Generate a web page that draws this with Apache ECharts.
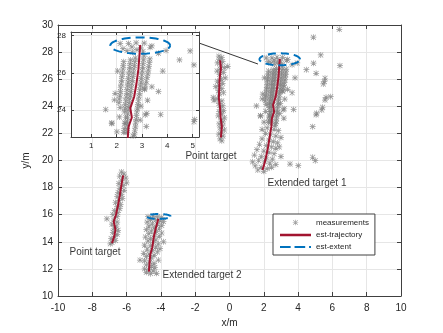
<!DOCTYPE html>
<html>
<head>
<meta charset="utf-8">
<script src="https://cdn.jsdelivr.net/npm/echarts@6/dist/echarts.min.js"></script>
<style>
  html, body { margin: 0; padding: 0; background: #fff; }
  #chart { width: 443px; height: 333px; }
</style>
</head>
<body>
<div id="chart"></div>
<script>
  const pt1Meas = [[-6.3,19.15],[-6.15,19.0],[-6.4,18.85],[-6.05,18.7],[-6.3,18.55],[-6.0,18.35],[-6.45,18.3],[-6.2,18.15],[-6.4,17.95],[-6.15,17.8],[-6.5,17.65],[-6.3,17.5],[-6.55,17.35],[-6.25,17.2],[-6.45,17.05],[-6.65,16.9],[-6.35,16.75],[-6.55,16.6],[-6.4,16.45],[-6.7,16.3],[-6.5,16.15],[-6.8,16.0],[-6.55,15.85],[-7.15,15.7],[-6.75,15.6],[-6.55,15.45],[-6.85,15.3],[-6.6,15.15],[-6.75,15.0],[-6.5,14.85],[-6.8,14.7],[-6.55,14.55],[-6.7,14.4],[-6.9,14.25],[-6.65,14.1],[-6.85,13.95],[-6.95,13.85]];
  const pt2Meas = [[-0.62,27.7],[-0.45,27.6],[-0.6,27.45],[-0.4,27.3],[-0.7,27.2],[-0.5,27.05],[-0.1,26.95],[-0.3,26.85],[-0.55,26.75],[-0.72,26.6],[-0.35,26.5],[-0.58,26.35],[-0.25,26.1],[-0.48,26.0],[-0.7,25.85],[-0.4,25.7],[-0.6,25.55],[-0.8,25.45],[-0.45,25.3],[-0.65,25.15],[-0.35,25.0],[-0.6,24.9],[-0.95,24.65],[-0.9,24.45],[-0.7,24.55],[-0.45,24.4],[-0.62,24.2],[-0.4,24.05],[-0.55,23.9],[-0.35,23.7],[-0.6,23.6],[-0.42,23.45],[-0.65,23.3],[-0.3,23.15],[-0.5,23.0],[-0.38,22.85],[-0.6,22.7],[-0.4,22.55],[-0.55,22.4],[-0.3,22.25],[-0.48,22.1],[-0.62,21.95],[-0.38,21.8],[-0.55,21.6],[-0.45,21.45]];
  const et1Meas = [
    [2.14,27.58],[2.47,27.58],[2.77,27.62],[3.09,27.6],[3.39,27.45],[2.41,27.2],[2.62,27.12],[2.8,27.25],[3.04,27.15],[3.32,27.38],[3.65,27.06],[3.95,27.2],[2.95,27.35],[2.6,27.4],[2.25,27.3],
    [2.28,26.6],[2.26,26.4],[2.25,26.2],[2.23,26.0],[2.21,25.8],[2.2,25.6],[2.18,25.4],[2.16,25.2],[2.15,25.0],[2.13,24.8],[2.11,24.6],[2.09,24.4],
    [2.55,26.7],[2.53,26.5],[2.52,26.3],[2.5,26.1],[2.48,25.9],[2.46,25.7],[2.45,25.5],[2.43,25.3],[2.41,25.1],[2.4,24.9],[2.38,24.7],[2.36,24.5],[2.34,24.3],[2.33,24.1],[2.31,23.9],[2.36,23.6],[2.32,23.3],[2.3,23.0],[2.28,22.8],
    [3.08,26.9],[3.06,26.7],[3.04,26.5],[3.03,26.3],[3.01,26.1],[2.99,25.9],[2.97,25.7],[2.96,25.5],[2.94,25.3],[2.92,25.1],[2.9,24.9],[2.88,24.7],[2.86,24.5],[2.84,24.3],[2.82,24.1],[2.8,23.9],[2.78,23.7],[2.77,23.5],[2.75,23.3],[2.74,23.1],[2.72,22.9],[2.7,22.7],
    [3.31,26.75],[3.29,26.55],[3.27,26.35],[3.25,26.15],[3.23,25.95],[3.2,25.75],[3.17,25.55],[3.14,25.35],[3.11,25.15],
    [2.74,26.8],[2.72,26.6],[2.7,26.4],[2.68,26.2],[2.66,26.0],[2.64,25.8],[2.62,25.6],[2.6,25.4],[2.58,25.2],[2.56,25.0],[2.54,24.8],[2.52,24.6],[2.5,24.4],[2.48,24.2],[2.46,24.0],[2.44,23.8],[2.43,23.6],[2.42,23.4],[2.42,23.2],[2.41,23.0],[2.4,22.8],
    [2.04,26.1],[3.82,26.1],[1.94,24.9],[1.91,24.55],[1.57,24.03],[2.14,24.14],[1.81,23.31],[2.11,23.63],[3.39,25.25],[3.65,25.0],[3.22,24.53],[3.74,23.76],[2.93,23.46],[3.17,23.12],[2.96,24.21],[4.48,26.7],[5.05,26.43],[4.9,27.18],[5.08,23.49],[5.05,23.37],[2.01,22.83],[1.81,23.28],[2.34,23.28],[3.19,23.82],[3.1,25.11],[3.13,23.74],
    [6.4,29.68],[4.89,29.1],[5.32,27.79],[6.44,27.0],[5.57,26.07],[5.53,25.82],[5.47,25.65],[5.63,24.66],[5.9,24.71],[5.57,24.46],[5.43,23.93],[5.38,23.73],[4.85,22.5],[4.85,20.24],[5.0,19.99],[3.53,19.74],[4.01,19.62],
    [2.2,22.4],[2.6,22.3],[2.85,22.2],[2.1,22.0],[2.4,21.9],[2.7,21.8],[3.0,21.7],[1.9,21.6],[2.3,21.5],[2.55,21.4],[2.8,21.3],[1.75,21.2],[2.15,21.1],[2.45,21.0],[2.7,20.9],[1.6,20.8],[2.0,20.7],[2.3,20.6],[2.6,20.5],[1.45,20.4],[1.85,20.3],[2.15,20.2],[2.5,20.1],[1.7,20.0],[2.05,19.9],[2.35,19.8],[2.7,19.7],[1.5,19.6],[1.85,19.5],[2.2,19.4],[1.65,19.3],[2.0,19.2],[2.45,19.5],[1.35,19.9],[3.0,20.3],[2.9,21.0],[1.9,22.3],[2.65,22.6]
  ];
  const et2Meas = [[-4.75,15.85],[-4.45,15.9],[-4.2,15.85],[-3.95,15.8],[-4.6,15.65],[-4.3,15.6],[-4.05,15.55],[-3.85,15.5],[-4.8,15.45],[-4.5,15.35],[-4.2,15.3],[-3.95,15.2],[-4.7,15.15],[-4.4,15.05],[-4.1,15.0],[-4.85,14.9],[-4.55,14.8],[-4.25,14.75],[-3.95,14.65],[-4.7,14.6],[-4.4,14.5],[-4.1,14.4],[-4.9,14.35],[-4.6,14.25],[-4.3,14.15],[-3.85,14.0],[-4.75,14.05],[-4.45,13.95],[-4.15,13.85],[-4.95,13.75],[-4.6,13.7],[-4.3,13.6],[-4.05,13.5],[-4.8,13.45],[-4.5,13.35],[-4.2,13.25],[-5.0,13.15],[-4.7,13.1],[-4.4,13.0],[-4.85,12.9],[-4.55,12.8],[-5.22,12.65],[-4.15,12.65],[-4.95,12.6],[-4.65,12.5],[-4.4,12.4],[-4.85,12.3],[-4.55,12.2],[-4.35,12.1],[-4.95,12.0],[-4.7,11.95],[-4.45,11.85],[-4.85,11.75],[-4.25,11.67],[-4.6,11.65]];

  // estimated trajectories
  const pt1Traj = [[-6.2,18.9],[-6.3,18.2],[-6.4,17.4],[-6.5,16.7],[-6.62,16.0],[-6.75,15.5],[-6.65,14.9],[-6.72,14.4],[-6.85,13.9]];
  const pt2Traj = [[-0.55,27.4],[-0.5,26.8],[-0.58,26.0],[-0.6,25.2],[-0.62,24.6],[-0.55,23.9],[-0.52,23.2],[-0.45,22.5],[-0.5,21.7]];
  const et1Traj = [[2.93,27.5],[2.86,26.2],[2.78,25.4],[2.69,24.7],[2.54,24.1],[2.6,23.6],[2.47,23.1],[2.44,22.5],[2.35,21.8],[2.25,21.0],[2.12,20.2],[2.0,19.6],[1.92,19.3]];
  const et2Traj = [[-4.15,15.7],[-4.3,15.0],[-4.42,14.3],[-4.5,13.6],[-4.62,13.05],[-4.66,12.5],[-4.7,11.8]];

  // estimated extents: centre x, centre y, half-width, half-height
  const et1Ext = [2.93, 27.47, 1.18, 0.44];
  const et2Ext = [-4.13, 15.87, 0.7, 0.18];

  // annotations
  const textLabels = [[-1.08, 20.3, 'Point target'], [4.52, 18.32, 'Extended target 1'], [-7.84, 13.22, 'Point target'], [-1.6, 11.55, 'Extended target 2']];
  const arrowFrom = [-1.78, 28.67];
  const arrowTo = [1.66, 27.12];

  const insetXTicks = [1, 2, 3, 4, 5];
  const insetYTicks = [24, 26, 28];

  const star = 'path://M4.4,0h1.2v10h-1.2z M0,4.4h10v1.2h-10z M1.3,0.5L9.5,8.7L8.7,9.5L0.5,1.3z M0.5,8.7L8.7,0.5L9.5,1.3L1.3,9.5z';
  // same asterisk with empty margin so the legend draws it smaller
  const legendStar = 'path://M-3,-3h0.01v0.01h-0.01z M12.99,12.99h0.01v0.01h-0.01z M4.4,0h1.2v10h-1.2z M0,4.4h10v1.2h-10z M1.3,0.5L9.5,8.7L8.7,9.5L0.5,1.3z M0.5,8.7L8.7,0.5L9.5,1.3L1.3,9.5z';
  const solidIcon = 'path://M0,0h32v2.6h-32z';
  const dashIcon = 'path://M0,0h11v2.2h-11z M15,0h11v2.2h-11z M30,0h2v2.2h-2z';
  const axisColor = '#404040';
  const textColor = '#262626';
  const gridColor = '#e6e6e6';

  function ellipseItem(lineDash) {
    return function (params, api) {
      const cx = api.value(0), cy = api.value(1), a = api.value(2), b = api.value(3);
      const pts = [];
      for (let i = 0; i <= 80; i++) {
        const t = i / 80 * Math.PI * 2;
        pts.push(api.coord([cx + a * Math.cos(t), cy + b * Math.sin(t)]));
      }
      return {
        type: 'polyline',
        shape: { points: pts },
        style: { stroke: '#0072BD', lineWidth: 2, lineDash: lineDash, fill: null }
      };
    };
  }

  function meas(data, xi, z) {
    return { type: 'scatter', name: 'measurements', xAxisIndex: xi, yAxisIndex: xi, data: data,
      symbol: star, symbolSize: 6, itemStyle: { color: '#808080' }, z: z };
  }
  function traj(data, xi, z) {
    return { type: 'line', name: 'est-trajectory', xAxisIndex: xi, yAxisIndex: xi, data: data,
      symbol: 'none', lineStyle: { color: '#A2142F', width: 2 }, itemStyle: { color: '#A2142F' }, z: z };
  }
  function ext(item, xi, z, dash) {
    return { type: 'custom', name: 'est-extent', coordinateSystem: 'cartesian2d', xAxisIndex: xi, yAxisIndex: xi,
      data: [item], encode: { x: 0, y: 1 }, renderItem: ellipseItem(dash), itemStyle: { color: '#0072BD' }, z: z };
  }

  const tickStyle = { inside: true, length: 4, lineStyle: { color: axisColor } };
  const lineStyle = { onZero: false, lineStyle: { color: axisColor, width: 1 } };

  const myChart = echarts.init(document.getElementById('chart'));
  myChart.setOption({
    animation: false,
    textStyle: { fontFamily: 'Liberation Sans, Arial, sans-serif' },
    grid: [
      { left: 58, top: 25, width: 343, height: 271 },
      { left: 71, top: 32, width: 128, height: 105, show: true, backgroundColor: '#fff', borderWidth: 0, z: 10 }
    ],
    legend: {
      orient: 'vertical', left: 273, top: 214,
      padding: [4, 6, 4, 7], itemGap: 4, itemWidth: 31, itemHeight: 9,
      backgroundColor: '#fff', borderColor: axisColor, borderWidth: 1,
      textStyle: { fontSize: 8, color: textColor },
      data: [
        { name: 'measurements', icon: legendStar, itemStyle: { color: '#8a8a8a' } },
        { name: 'est-trajectory', icon: solidIcon },
        { name: 'est-extent', icon: dashIcon }
      ]
    },
    xAxis: [
      { gridIndex: 0, type: 'value', min: -10, max: 10, interval: 2, position: 'bottom',
        name: 'x/m', nameLocation: 'middle', nameGap: 22, nameTextStyle: { fontSize: 10, color: textColor },
        axisLine: lineStyle, axisTick: tickStyle,
        axisLabel: { fontSize: 10, color: textColor, margin: 7 },
        splitLine: { show: true, lineStyle: { color: gridColor } } },
      { gridIndex: 0, type: 'value', min: -10, max: 10, interval: 2, position: 'top',
        axisLine: lineStyle, axisTick: tickStyle, axisLabel: { show: false }, splitLine: { show: false } },
      { gridIndex: 1, type: 'value', min: 0.2, max: 5.25, position: 'bottom', z: 11,
        axisLine: lineStyle, axisTick: { inside: true, length: 3, customValues: insetXTicks, lineStyle: { color: axisColor } },
        axisLabel: { fontSize: 8, color: textColor, margin: 5, customValues: insetXTicks },
        splitLine: { show: true, lineStyle: { color: gridColor } } },
      { gridIndex: 1, type: 'value', min: 0.2, max: 5.25, position: 'top', z: 11,
        axisLine: lineStyle, axisTick: { inside: true, length: 3, customValues: insetXTicks, lineStyle: { color: axisColor } },
        axisLabel: { show: false }, splitLine: { show: false } }
    ],
    yAxis: [
      { gridIndex: 0, type: 'value', min: 10, max: 30, interval: 2, position: 'left',
        name: 'y/m', nameLocation: 'middle', nameGap: 18, nameTextStyle: { fontSize: 10, color: textColor },
        axisLine: lineStyle, axisTick: tickStyle,
        axisLabel: { fontSize: 10, color: textColor, margin: 5 },
        splitLine: { show: true, lineStyle: { color: gridColor } } },
      { gridIndex: 0, type: 'value', min: 10, max: 30, interval: 2, position: 'right',
        axisLine: lineStyle, axisTick: tickStyle, axisLabel: { show: false }, splitLine: { show: false } },
      { gridIndex: 1, type: 'value', min: 22.55, max: 28.2, position: 'left', z: 11,
        axisLine: lineStyle, axisTick: { inside: true, length: 3, customValues: insetYTicks, lineStyle: { color: axisColor } },
        axisLabel: { fontSize: 8, color: textColor, margin: 5, customValues: insetYTicks },
        splitLine: { show: true, lineStyle: { color: gridColor } } },
      { gridIndex: 1, type: 'value', min: 22.55, max: 28.2, position: 'right', z: 11,
        axisLine: lineStyle, axisTick: { inside: true, length: 3, customValues: insetYTicks, lineStyle: { color: axisColor } },
        axisLabel: { show: false }, splitLine: { show: false } }
    ],
    series: [
      Object.assign(meas(pt1Meas, 0, 2), {
        markLine: {
          silent: true, symbol: ['none', 'arrow'], symbolSize: [0, 9],
          lineStyle: { color: '#000', width: 0.8, type: 'solid' }, label: { show: false },
          data: [[{ coord: arrowFrom }, { coord: arrowTo }]]
        }
      }),
      meas(pt2Meas, 0, 2),
      meas(et1Meas, 0, 2),
      meas(et2Meas, 0, 2),
      traj(pt1Traj, 0, 3),
      traj(pt2Traj, 0, 3),
      traj(et1Traj, 0, 3),
      traj(et2Traj, 0, 3),
      ext(et1Ext, 0, 4, [8, 5]),
      ext(et2Ext, 0, 4, [8, 5]),
      {
        type: 'scatter', xAxisIndex: 0, yAxisIndex: 0, data: textLabels, symbolSize: 1,
        itemStyle: { color: 'rgba(0,0,0,0)' }, z: 5,
        label: { show: true, position: 'inside', fontSize: 10, color: '#000', formatter: p => p.value[2] }
      },
      meas(et1Meas, 2, 12),
      traj(et1Traj, 2, 13),
      ext(et1Ext, 2, 14, [9, 5])
    ]
  });
</script>
</body>
</html>
